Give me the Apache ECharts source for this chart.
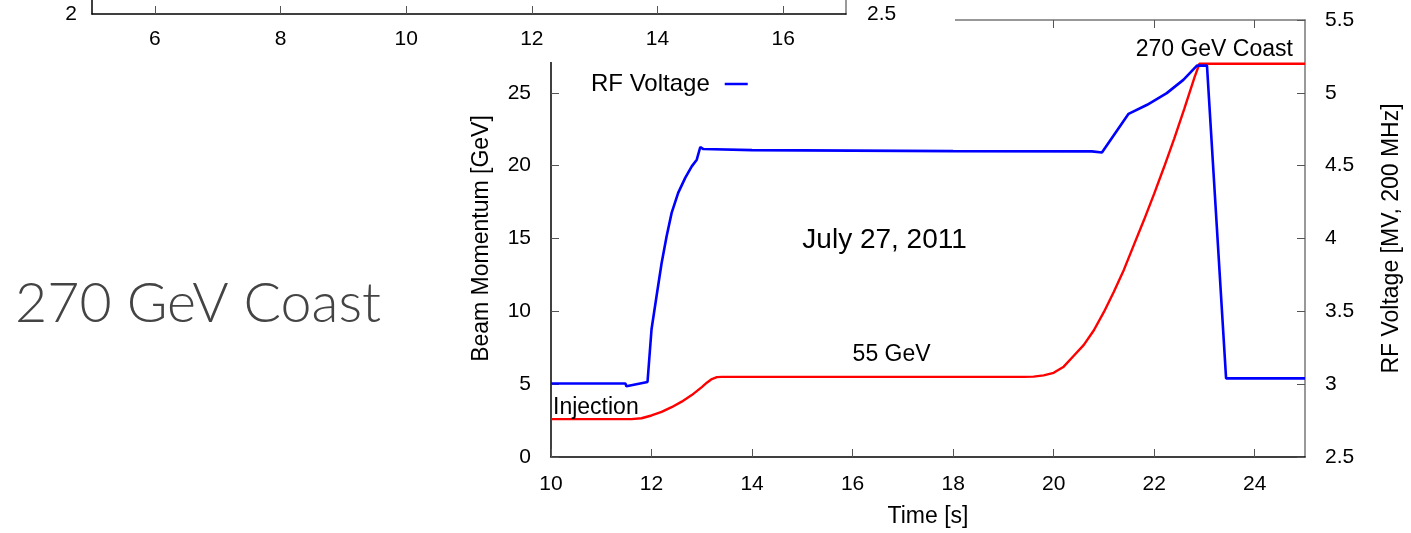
<!DOCTYPE html>
<html>
<head>
<meta charset="utf-8">
<script src="https://cdn.jsdelivr.net/npm/echarts@6/dist/echarts.min.js"></script>
<style>
  html, body { margin: 0; padding: 0; background: #fff; overflow: hidden; }
  #main { position: absolute; left: 0; top: 0; width: 1411px; height: 533px; }
  #prev { position: absolute; left: 0; top: -300px; width: 955px; height: 362px; background: #fff; }
</style>
</head>
<body>
<div id="main"></div>
<div id="prev"></div>
<script>
// Beam momentum (units of 10 GeV/c) vs time [s]
const momTime  = [10, 11.0, 11.6, 11.8, 12.0, 12.2, 12.4, 12.6, 12.8, 13.0, 13.1, 13.2, 13.3, 13.4, 16.0, 19.4, 19.6, 19.8, 20.0, 20.2, 20.4, 20.6, 20.8, 21.0, 21.2, 21.4, 21.6, 21.8, 22.0, 22.2, 22.4, 22.6, 22.8, 22.9, 25];
const momValue = [2.6, 2.6, 2.6, 2.66, 2.85, 3.1, 3.42, 3.8, 4.25, 4.8, 5.1, 5.35, 5.48, 5.5, 5.5, 5.5, 5.52, 5.6, 5.78, 6.2, 6.95, 7.7, 8.7, 9.96, 11.36, 12.88, 14.6, 16.3, 18.08, 19.94, 21.88, 23.92, 26.04, 27, 27];

// RF voltage [MV, 200 MHz] vs time [s]
const rfTime  = [10, 11.48, 11.5, 11.92, 11.94, 12.0, 12.1, 12.2, 12.3, 12.4, 12.53, 12.67, 12.8, 12.9, 12.97, 13.03, 14.0, 16.0, 18.0, 20.76, 20.96, 21.49, 21.86, 22.25, 22.58, 22.85, 23.05, 23.43, 25];
const rfValue = [3.005, 3.005, 2.985, 3.015, 3.02, 3.377, 3.605, 3.83, 4.016, 4.176, 4.313, 4.416, 4.495, 4.541, 4.628, 4.614, 4.607, 4.603, 4.600, 4.598, 4.59, 4.856, 4.918, 4.998, 5.089, 5.187, 5.187, 3.04, 3.04];

// Axis tick values
const timeTicks = [10, 12, 14, 16, 18, 20, 22, 24];
const prevTimeTicks = [6, 8, 10, 12, 14, 16];

// Text annotations: [text, time, momentum, align]
const notes = [
  ['Injection', 10.04, 3.42, 'left'],
  ['55 GeV', 16.0, 7.0, 'left'],
  ['July 27, 2011', 15.0, 14.86, 'left'],
  ['270 GeV Coast', 24.76, 27.95, 'right']
];

const FONT = 'Liberation Sans';
const tickStyle = { show: true, inside: true, length: 8, lineStyle: { color: '#555', width: 1 } };

const chart = echarts.init(document.getElementById('main'), null, { renderer: 'canvas' });
chart.setOption({
  animation: false,
  backgroundColor: '#fff',
  textStyle: { fontFamily: FONT },
  grid: { left: 551, right: 106, top: 20, bottom: 75 },
  legend: {
    data: ['RF Voltage'],
    left: 586, top: 67,
    icon: 'rect', itemWidth: 23, itemHeight: 2.5,
    align: 'right',
    textStyle: { fontSize: 24, color: '#000', fontFamily: FONT, padding: [0, 10, 0, 0] }
  },
  xAxis: [
    {
      type: 'value', min: 10, max: 25, position: 'bottom',
      name: 'Time [s]', nameLocation: 'middle', nameGap: 48,
      nameTextStyle: { fontSize: 23, color: '#000', fontFamily: FONT },
      axisLine: { show: true, lineStyle: { color: '#000', width: 1.5 } },
      axisTick: Object.assign({ customValues: timeTicks }, tickStyle),
      axisLabel: { customValues: timeTicks, fontSize: 21, color: '#000', margin: 17, fontFamily: FONT },
      splitLine: { show: false }
    },
    {
      type: 'value', min: 10, max: 25, position: 'top',
      axisLine: { show: true, lineStyle: { color: '#777', width: 1.5 } },
      axisTick: Object.assign({ customValues: timeTicks }, tickStyle),
      axisLabel: { show: false },
      splitLine: { show: false }
    }
  ],
  yAxis: [
    {
      type: 'value', min: 0, max: 30, interval: 5, position: 'left',
      name: 'Beam Momentum [GeV]', nameLocation: 'middle', nameGap: 58, nameRotate: 90,
      nameTextStyle: { fontSize: 23, color: '#000', fontFamily: FONT },
      axisLine: { show: true, lineStyle: { color: '#000', width: 1.5 } },
      axisTick: tickStyle,
      axisLabel: { fontSize: 21, color: '#000', margin: 20, fontFamily: FONT },
      splitLine: { show: false }
    },
    {
      type: 'value', min: 2.5, max: 5.5, interval: 0.5, position: 'right',
      name: 'RF Voltage [MV, 200 MHz]', nameLocation: 'middle', nameGap: 75, nameRotate: 90,
      nameTextStyle: { fontSize: 23, color: '#000', fontFamily: FONT },
      axisLine: { show: true, lineStyle: { color: '#777', width: 1.5 } },
      axisTick: tickStyle,
      axisLabel: { fontSize: 21, color: '#000', margin: 20, fontFamily: FONT },
      splitLine: { show: false }
    }
  ],
  series: [
    {
      name: 'Beam Momentum', type: 'line', xAxisIndex: 0, yAxisIndex: 0,
      data: momTime.map((t, i) => [t, momValue[i]]),
      showSymbol: false, lineStyle: { color: '#ff0000', width: 2.4 }, itemStyle: { color: '#ff0000' },
      z: 3
    },
    {
      name: 'RF Voltage', type: 'line', xAxisIndex: 0, yAxisIndex: 1,
      data: rfTime.map((t, i) => [t, rfValue[i]]),
      showSymbol: false, lineStyle: { color: '#0000ff', width: 2.6 }, itemStyle: { color: '#0000ff' },
      z: 4
    }
  ]
});

// Place annotations through the axes' own scales
const noteGraphics = notes.map(([text, x, y, align]) => {
  const p = chart.convertToPixel({ xAxisIndex: 0, yAxisIndex: 0 }, [x, y]);
  return {
    type: 'text', x: p[0], y: p[1], z: 10,
    style: {
      text: text, fill: '#000', align: align, verticalAlign: 'middle',
      font: (text === 'July 27, 2011' ? 28 : 23) + 'px "' + FONT + '"'
    }
  };
});
noteGraphics.push({
  type: 'text', x: 15, y: 304, z: 10,
  style: { text: '270 GeV Coast', fill: '#444', align: 'left', verticalAlign: 'middle', font: '300 55.5px Lato' }
});
chart.setOption({ graphic: noteGraphics });

// Bottom edge of the preceding plot on the slide
const prev = echarts.init(document.getElementById('prev'), null, { renderer: 'canvas' });
prev.setOption({
  animation: false,
  backgroundColor: '#fff',
  textStyle: { fontFamily: FONT },
  grid: { left: 92, right: 109, top: 20, bottom: 48 },
  xAxis: {
    type: 'value', min: 5, max: 17,
    axisLine: { show: true, lineStyle: { color: '#000', width: 1.5 } },
    axisTick: Object.assign({ customValues: prevTimeTicks }, tickStyle),
    axisLabel: { customValues: prevTimeTicks, fontSize: 21, color: '#000', margin: 15, fontFamily: FONT },
    splitLine: { show: false }
  },
  yAxis: [
    {
      type: 'value', min: 2, max: 3, interval: 0.5, position: 'left',
      axisLine: { show: true, lineStyle: { color: '#000', width: 1.5 } },
      axisTick: { show: false },
      axisLabel: { fontSize: 21, color: '#000', margin: 15, fontFamily: FONT },
      splitLine: { show: false }
    },
    {
      type: 'value', min: 2.5, max: 3.5, interval: 0.5, position: 'right',
      axisLine: { show: true, lineStyle: { color: '#777', width: 1.5 } },
      axisTick: { show: false },
      axisLabel: { fontSize: 21, color: '#000', margin: 21, fontFamily: FONT },
      splitLine: { show: false }
    }
  ],
  series: []
});
</script>
</body>
</html>
